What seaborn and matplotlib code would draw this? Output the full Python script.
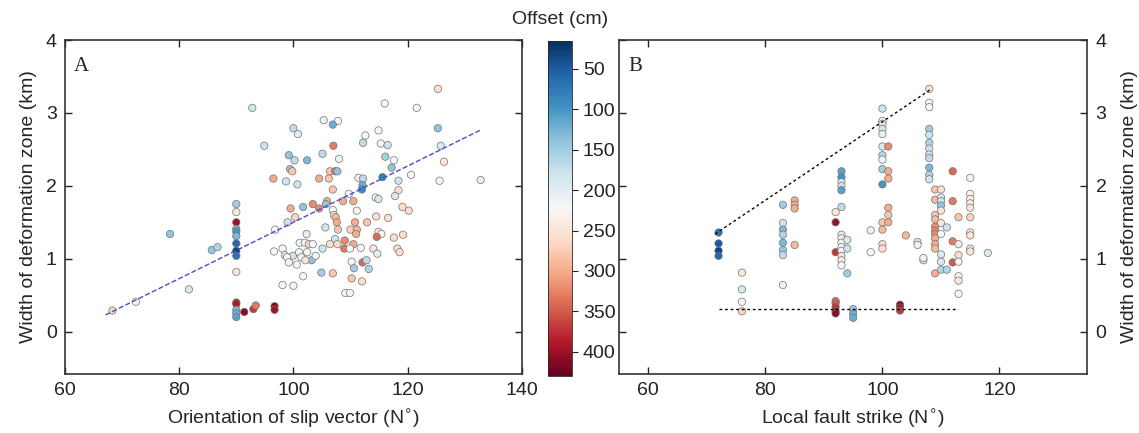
import numpy as np
import pandas as pd
import matplotlib
matplotlib.use("Agg")
import matplotlib.pyplot as plt
import matplotlib.colors as mcolors
import seaborn as sns

# Panel A: orientation of slip vector vs width of deformation zone
a_slip = [68.3, 72.4, 78.4, 81.7, 85.7, 86.7,
          90, 90, 90, 90, 90, 90, 90, 90, 90, 90, 90, 90, 90, 90, 90,
          91.4, 93.0, 93.4, 96.7, 96.7, 92.8,
          105.3, 107.8, 106.9, 100.0, 100.8, 94.9, 107.0, 99.2, 100.2, 102.4, 105.1, 108.0, 112.6, 112.2,
          99.4, 99.8, 96.5, 98.7, 100.7, 104.5, 106.2, 106.4, 107.3, 107.7, 111.4, 112.2, 112.1, 112.0, 106.9,
          99.5, 101.7, 103.4, 104.5, 105.9, 105.7, 108.7, 109.7, 110.5, 111.1,
          100.3, 99.0, 106.9, 107.1, 107.4, 107.6, 107.8, 105.6, 110.8, 112.9, 110.0, 111.1, 111.0,
          96.8, 102.3, 101.1, 102.0, 102.7, 103.4, 107.3, 107.7, 109.0, 108.9, 106.4, 110.5, 111.8, 109.9, 105.1,
          96.6, 98.1, 98.5, 99.9, 98.9, 101.0, 101.4, 102.4, 103.2, 102.1, 103.9, 99.2, 100.6, 110.2, 112.1, 112.8, 110.6,
          101.7, 104.9, 106.9, 110.2, 112.0, 98.1, 100.0, 109.1, 109.9,
          125.3, 116.0, 121.6, 114.9, 125.3, 115.3, 116.5, 116.1, 117.6, 117.2, 125.8, 126.4, 115.6, 120.6, 125.6,
          132.8, 118.4, 118.4, 117.8, 114.4, 114.9, 119.1, 120.2, 114.5, 116.6, 114.9, 115.4, 114.6, 117.6, 119.2,
          114.0, 114.7, 118.2, 118.6, 113.2]
a_width = [0.29, 0.41, 1.34, 0.58, 1.12, 1.16,
           1.75, 1.64, 1.50, 1.41, 1.37, 1.31, 1.21, 1.11, 1.04, 0.82, 0.40, 0.38, 0.30, 0.25, 0.20,
           0.27, 0.31, 0.36, 0.35, 0.30, 3.07,
           2.90, 2.89, 2.84, 2.79, 2.71, 2.55, 2.55, 2.42, 2.35, 2.35, 2.44, 2.37, 2.69, 2.59,
           2.23, 2.20, 2.10, 2.06, 2.02, 2.10, 2.10, 2.20, 2.20, 2.20, 2.11, 2.10, 2.01, 1.95, 1.95,
           1.69, 1.71, 1.75, 1.69, 1.79, 1.75, 1.79, 1.89, 1.79, 1.66,
           1.57, 1.50, 1.67, 1.60, 1.57, 1.50, 1.40, 1.43, 1.50, 1.50, 1.40, 1.40, 1.34,
           1.40, 1.34, 1.22, 1.22, 1.20, 1.20, 1.27, 1.20, 1.25, 1.14, 1.20, 1.20, 1.15, 1.14, 1.14,
           1.10, 1.14, 1.05, 1.04, 1.02, 1.09, 1.02, 1.09, 0.98, 0.98, 1.04, 0.95, 0.92, 0.96, 0.95, 0.98, 0.87,
           0.76, 0.81, 0.80, 0.73, 0.69, 0.64, 0.63, 0.53, 0.53,
           3.33, 3.13, 3.07, 2.76, 2.79, 2.58, 2.56, 2.40, 2.35, 2.25, 2.55, 2.33, 2.12, 2.15, 2.07,
           2.08, 2.07, 1.94, 1.86, 1.84, 1.82, 1.71, 1.66, 1.58, 1.56, 1.37, 1.34, 1.30, 1.29, 1.33,
           1.14, 1.07, 1.14, 1.09, 0.86]
a_offset = [270, 220, 140, 190, 140, 160,
            150, 240, 400, 120, 100, 130, 60, 30, 70, 250, 400, 390, 130, 120, 110,
            410, 370, 330, 410, 400, 180,
            210, 220, 120, 170, 200, 180, 330, 140, 170, 130, 170, 210, 220, 170,
            140, 280, 300, 180, 180, 300, 280, 280, 330, 140, 210, 170, 120, 90, 280,
            300, 140, 320, 320, 300, 140, 300, 220, 300, 230,
            270, 180, 220, 260, 290, 300, 280, 180, 300, 280, 270, 290, 300,
            220, 200, 220, 210, 270, 220, 180, 260, 320, 330, 260, 300, 220, 220, 180,
            220, 220, 260, 180, 220, 220, 220, 220, 140, 250, 220, 230, 220, 220, 340, 170, 150,
            220, 150, 280, 280, 260, 220, 220, 220, 220,
            260, 220, 220, 220, 140, 220, 180, 150, 220, 140, 190, 250, 80, 220, 220,
            200, 180, 260, 190, 220, 190, 260, 260, 260, 260, 250, 220, 340, 260, 260,
            250, 200, 260, 260, 160]

# dashed trend line in panel A (end points)
a_fit_x = [67.1, 132.9]
a_fit_y = [0.23, 2.77]

# Panel B: local fault strike vs width of deformation zone
b_strike = ([72] * 4 + [76] * 4 + [83] * 8 + [85] * 4 + [92] * 8 + [93] * 14 + [94] * 3 + [95] * 3
            + [98] * 2 + [100] * 14 + [101] * 6 + [103] * 3 + [104] + [106] * 2 + [107] * 2
            + [108] * 12 + [109] * 11 + [110] * 10 + [111] * 2 + [112] * 4 + [113] * 7 + [115] * 10 + [118])
b_width = [1.36, 1.21, 1.11, 1.04,
           0.81, 0.58, 0.41, 0.28,
           1.74, 1.49, 1.40, 1.33, 1.22, 1.12, 1.05, 0.64,
           1.80, 1.74, 1.69, 1.19,
           1.64, 1.50, 1.09, 0.42, 0.39, 0.34, 0.28, 0.25,
           2.20, 2.12, 2.05, 2.00, 1.94, 1.71, 1.33, 1.28, 1.22, 1.16, 1.11, 1.04, 0.98, 0.91,
           1.26, 1.14, 0.80,
           0.31, 0.25, 0.19,
           1.39, 1.09,
           3.06, 2.89, 2.85, 2.78, 2.71, 2.54, 2.42, 2.36, 2.23, 2.02, 1.50, 1.40, 1.20, 1.14,
           2.54, 2.20, 2.10, 1.70, 1.60, 1.50,
           0.37, 0.33, 0.29,
           1.32,
           1.23, 1.19,
           0.98, 1.01,
           3.33, 3.14, 3.08, 2.78, 2.70, 2.59, 2.51, 2.43, 2.38, 2.25, 2.15, 2.09,
           1.95, 1.81, 1.60, 1.54, 1.44, 1.38, 1.34, 1.28, 1.20, 1.14, 0.80,
           1.95, 1.84, 1.79, 1.73, 1.66, 1.49, 1.34, 1.06, 0.96, 0.85,
           1.43, 0.85,
           2.20, 1.79, 1.24, 0.95,
           1.57, 1.20, 1.05, 0.96, 0.76, 0.70, 0.52,
           2.11, 1.89, 1.82, 1.76, 1.70, 1.57, 1.36, 1.32, 1.14, 1.10,
           1.08]
b_offset = [70, 50, 30, 60,
            250, 190, 220, 270,
            150, 180, 130, 160, 130, 140, 170, 210,
            300, 300, 300, 290,
            250, 400, 370, 340, 350, 370, 400, 410,
            110, 100, 190, 180, 110, 170, 200, 240, 220, 220, 220, 250, 250, 220,
            190, 180, 150,
            140, 120, 120,
            210, 220,
            180, 215, 190, 185, 205, 190, 160, 210, 150, 100, 280, 290, 260, 260,
            320, 300, 300, 300, 280, 300,
            410, 400, 370,
            290,
            190, 210,
            190, 210,
            260, 215, 220, 150, 180, 160, 180, 180, 170, 130, 160, 180,
            280, 290, 280, 290, 320, 320, 320, 300, 300, 290, 300,
            260, 190, 180, 140, 250, 250, 220, 190, 190, 160,
            180, 160,
            340, 330, 330, 350,
            280, 240, 260, 220, 220, 250, 220,
            220, 230, 230, 240, 250, 270, 250, 250, 250, 250,
            190]

# dotted envelope lines in panel B
b_upper_x = [71.4, 108.2]
b_upper_y = [1.34, 3.32]
b_lower_x = [72.1, 112.9]
b_lower_y = [0.31, 0.31]

offset_ticks = [50, 100, 150, 200, 250, 300, 350, 400]

df_a = pd.DataFrame({"slip": a_slip, "width": a_width, "offset": a_offset})
df_b = pd.DataFrame({"strike": b_strike, "width": b_width, "offset": b_offset})

sns.set_style("white")
plt.rcParams["font.family"] = ["Liberation Sans", "DejaVu Sans"]
plt.rcParams["mathtext.fontset"] = "dejavusans"

norm = mcolors.Normalize(vmin=15, vmax=430)
cmap = "RdBu_r"

fig = plt.figure(figsize=(11.39, 4.33), dpi=100)
ax_a = fig.add_axes([0.0571, 0.1363, 0.4010, 0.7713])
cax = fig.add_axes([0.4814, 0.1316, 0.0211, 0.7744])
ax_b = fig.add_axes([0.5435, 0.1363, 0.4111, 0.7713])

point_kw = dict(hue="offset", palette=cmap, hue_norm=norm, legend=False,
                s=28, edgecolor="0.45", linewidth=0.5, zorder=3)

sns.scatterplot(data=df_a, x="slip", y="width", ax=ax_a, **point_kw)
ax_a.plot(a_fit_x, a_fit_y, ls="--", color="#4a4ad6", lw=1.0, zorder=4)

sns.scatterplot(data=df_b, x="strike", y="width", ax=ax_b, **point_kw)
ax_b.plot(b_upper_x, b_upper_y, ls=(0, (2, 2)), color="black", lw=1.0, zorder=4)
ax_b.plot(b_lower_x, b_lower_y, ls=(0, (2, 2)), color="black", lw=1.0, zorder=4)

for ax in (ax_a, ax_b):
    ax.set_ylim(-0.58, 4)
    ax.set_yticks([0, 1, 2, 3, 4])
    ax.tick_params(direction="in", top=True, right=True, left=True, bottom=True,
                   length=5, width=1, labelsize=14, colors="#222222", pad=6)
    for sp in ax.spines.values():
        sp.set_color("#333333")
        sp.set_linewidth(1.2)
    ax.set_facecolor("white")

ax_a.set_xlim(60, 140)
ax_a.set_xticks([60, 80, 100, 120, 140])
ax_a.set_xlabel("Orientation of slip vector (N$^{\\circ}$)", fontsize=14, labelpad=6)
ax_a.set_ylabel("Width of deformation zone (km)", fontsize=14, labelpad=6)
ax_a.text(0.02, 0.95, "A", transform=ax_a.transAxes, fontsize=15,
          family="Liberation Serif", va="top", ha="left")

ax_b.set_xlim(55, 135)
ax_b.set_xticks([60, 80, 100, 120])
ax_b.tick_params(labelleft=False, labelright=True)
ax_b.set_xlabel("Local fault strike (N$^{\\circ}$)", fontsize=14, labelpad=6)
ax_b.yaxis.set_label_position("right")
ax_b.set_ylabel("Width of deformation zone (km)", fontsize=14, rotation=90, labelpad=10)
ax_b.text(0.02, 0.95, "B", transform=ax_b.transAxes, fontsize=15,
          family="Liberation Serif", va="top", ha="left")

sm = plt.cm.ScalarMappable(norm=norm, cmap=cmap)
cb = fig.colorbar(sm, cax=cax)
cax.invert_yaxis()
cb.set_ticks(offset_ticks)
cb.outline.set_linewidth(0.6)
cax.tick_params(labelsize=14, length=4, direction="out", colors="#222222")
cax.set_title("Offset (cm)", fontsize=14, pad=12)

fig.savefig("out.png", dpi=100, facecolor="white")
